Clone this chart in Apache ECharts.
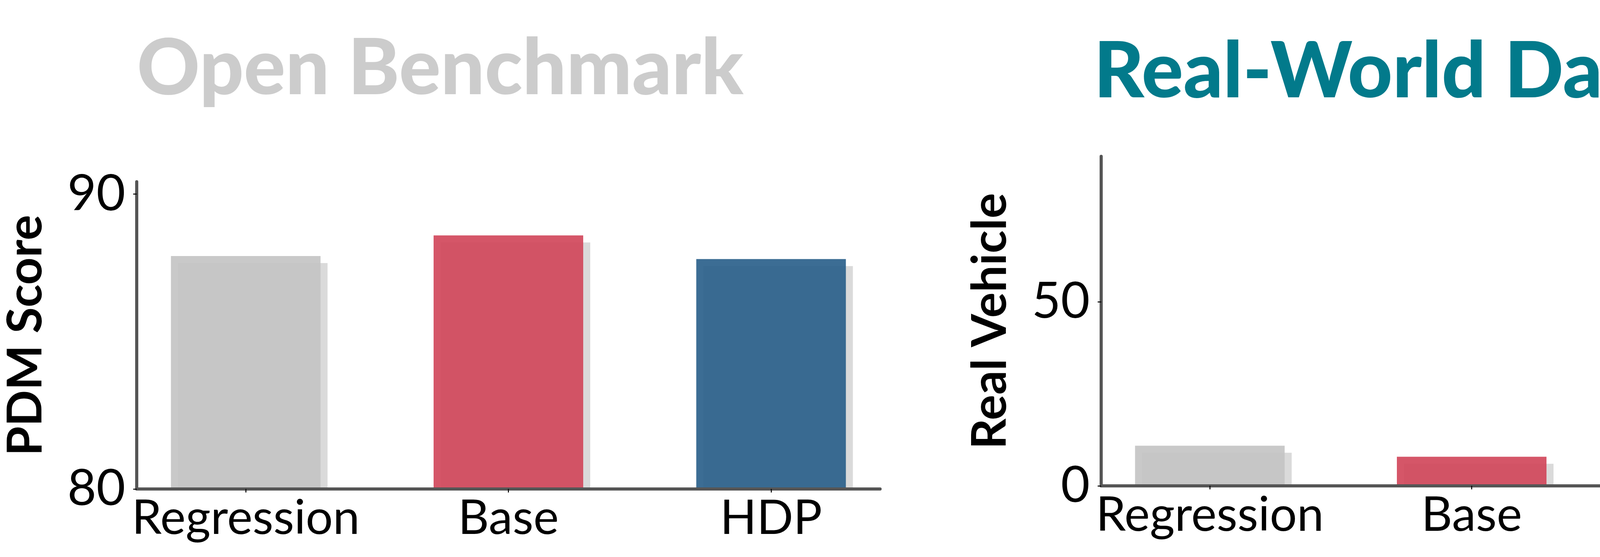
<!DOCTYPE html>
<html>
<head>
<meta charset="UTF-8">
<title>Open Benchmark vs Real-World Data</title>
<script src="https://cdn.jsdelivr.net/npm/echarts@6/dist/echarts.min.js"></script>
<style>
  html, body { margin: 0; padding: 0; background: #fff; }
  #chart { width: 4744px; height: 1425px; }
</style>
</head>
<body>
<div id="chart"></div>
<script>
// data
var methods = ['Regression', 'Base', 'HDP'];
var pdmScore = [87.9, 88.6, 87.8];          // Open Benchmark
var realVehicle = [10.9, 7.9, 75.5];        // Real-World Data
var pdmTicks = [80, 90];
var realTicks = [0, 50];
var barColors = ['rgba(195,195,195,0.9)', 'rgba(208,68,88,0.9)', 'rgba(39,93,136,0.9)'];

var chart = echarts.init(document.getElementById('chart'));

var FONT = 'Lato, "Noto Sans", sans-serif';
var SPINE = '#555555';

function xAxisFor(gridIndex) {
  return {
    type: 'value',
    gridIndex: gridIndex,
    min: -0.415,
    max: 2.415,
    z: 6,
    splitLine: { show: false },
    axisLine: { show: true, onZero: false, lineStyle: { color: SPINE, width: 8 } },
    axisTick: { show: true, customValues: [0, 1, 2], length: 9, lineStyle: { color: '#000', width: 2.5 } },
    axisLabel: {
      customValues: [0, 1, 2],
      formatter: function (v) { return methods[Math.round(v)]; },
      color: '#000', fontFamily: FONT, fontSize: 123, margin: 14
    }
  };
}

function yAxisFor(gridIndex, min, max, ticks, name) {
  return {
    type: 'value',
    gridIndex: gridIndex,
    min: min,
    max: max,
    z: 6,
    name: name,
    nameLocation: 'middle',
    nameRotate: 90,
    nameGap: 222,
    nameTextStyle: { color: '#000', fontFamily: FONT, fontWeight: 'bold', fontSize: 122 },
    splitLine: { show: false },
    axisLine: { show: true, onZero: false, lineStyle: { color: SPINE, width: 8 } },
    axisTick: { show: true, customValues: ticks, length: 9, lineStyle: { color: '#000', width: 2.5 } },
    axisLabel: { customValues: ticks, color: '#000', fontFamily: FONT, fontSize: 128, margin: 29 }
  };
}

function barSeries(idx, values) {
  return {
    type: 'bar',
    xAxisIndex: idx,
    yAxisIndex: idx,
    barWidth: 383,
    z: 2,
    data: values.map(function (v, i) {
      return {
        value: [i, v],
        itemStyle: {
          color: barColors[i],
          shadowColor: 'rgba(0,0,0,0.16)',
          shadowBlur: 0,
          shadowOffsetX: 18,
          shadowOffsetY: 18
        }
      };
    })
  };
}

var grids = [
  { left: 350, right: 2491, top: 465, bottom: 174 },
  { left: 2819, right: 28, top: 400, bottom: 182 }
];

chart.setOption({
  backgroundColor: '#fff',
  animation: false,
  grid: grids,
  xAxis: [xAxisFor(0), xAxisFor(1)],
  yAxis: [
    yAxisFor(0, 80, 90.42, pdmTicks, 'PDM Score'),
    yAxisFor(1, 0, 89.5, realTicks, 'Real Vehicle')
  ],
  series: [barSeries(0, pdmScore), barSeries(1, realVehicle)],
  graphic: [
    // headline titles
    { type: 'text', x: 1127, y: 177, z: 10,
      style: { text: 'Open Benchmark', align: 'center', verticalAlign: 'middle',
               font: '900 199px ' + FONT, fill: '#cccccc' } },
    { type: 'text', x: 3539, y: 185, z: 10,
      style: { text: 'Real-World Data', align: 'center', verticalAlign: 'middle',
               font: '900 199px ' + FONT, fill: '#027a8b' } },
    // hide the part of the bar shadows that falls below the x axis
    { type: 'rect', z: 3, silent: true,
      shape: { x: 340, y: 1425 - 174 + 4, width: 4744 - 2491 - 340 + 30, height: 24 },
      style: { fill: '#fff' } },
    { type: 'rect', z: 3, silent: true,
      shape: { x: 2810, y: 1425 - 182 + 4, width: 4744 - 2810, height: 24 },
      style: { fill: '#fff' } }
  ]
});
</script>
</body>
</html>
